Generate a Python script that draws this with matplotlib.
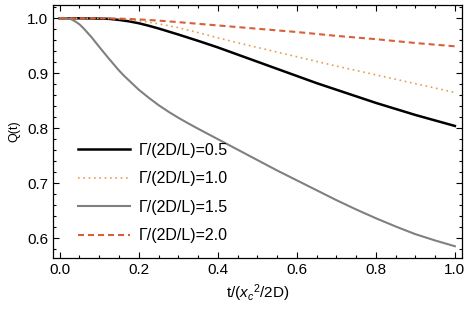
import matplotlib
matplotlib.use("Agg")
import matplotlib.pyplot as plt
from matplotlib.ticker import MultipleLocator

plt.rcParams['font.family'] = ['Liberation Sans', 'DejaVu Sans']
plt.rcParams['mathtext.fontset'] = 'custom'
plt.rcParams['mathtext.rm'] = 'Liberation Sans'
plt.rcParams['mathtext.it'] = 'Liberation Sans:italic'

# Data
t_05 = [0.0, 0.05, 0.1, 0.125, 0.15, 0.175, 0.2, 0.225, 0.25, 0.275, 0.3, 0.35, 0.4, 0.45, 0.5, 0.55,
        0.6, 0.65, 0.7, 0.75, 0.8, 0.85, 0.9, 0.95, 1.0]
q_05 = [1.0, 1.0, 0.9995, 0.999, 0.997, 0.9945, 0.991, 0.9865, 0.9815, 0.976, 0.9705, 0.959, 0.947, 0.934,
        0.921, 0.908, 0.895, 0.882, 0.870, 0.858, 0.846, 0.835, 0.824, 0.814, 0.804]

t_10 = [0.0, 0.1, 0.15, 0.175, 0.2, 0.225, 0.25, 0.275, 0.3, 0.35, 0.4, 0.45, 0.5, 0.55, 0.6, 0.65,
        0.7, 0.75, 0.8, 0.85, 0.9, 0.95, 1.0]
q_10 = [1.0, 1.0, 0.999, 0.9975, 0.9955, 0.993, 0.990, 0.9865, 0.983, 0.974, 0.9645, 0.9555, 0.947, 0.9385,
        0.930, 0.9215, 0.913, 0.905, 0.897, 0.889, 0.881, 0.873, 0.865]

t_15 = [0.0, 0.02, 0.03, 0.04, 0.05, 0.06, 0.07, 0.08, 0.09, 0.1, 0.1125, 0.125, 0.1375, 0.15, 0.1625,
        0.175, 0.1875, 0.2, 0.225, 0.25, 0.275, 0.3, 0.325, 0.35, 0.375, 0.4, 0.45, 0.5, 0.55, 0.6,
        0.65, 0.7, 0.75, 0.8, 0.85, 0.9, 0.95, 1.0]
q_15 = [1.0, 1.0, 0.998, 0.994, 0.989, 0.982, 0.974, 0.966, 0.957, 0.948, 0.937, 0.926, 0.9155, 0.905,
        0.8955, 0.887, 0.8785, 0.870, 0.8555, 0.842, 0.830, 0.819, 0.8088, 0.799, 0.7895, 0.780, 0.761,
        0.742, 0.723, 0.705, 0.687, 0.669, 0.652, 0.636, 0.621, 0.607, 0.5955, 0.585]

t_20 = [0.0, 0.1, 0.15, 0.2, 0.25, 0.3, 0.4, 0.5, 0.6, 0.7, 0.8, 0.9, 1.0]
q_20 = [1.0, 1.0, 0.9995, 0.998, 0.9958, 0.993, 0.987, 0.981, 0.975, 0.968, 0.962, 0.955, 0.949]

labels = ['Γ/(2D/L)=0.5', 'Γ/(2D/L)=1.0', 'Γ/(2D/L)=1.5', 'Γ/(2D/L)=2.0']
xticks = [0.0, 0.2, 0.4, 0.6, 0.8, 1.0]
yticks = [0.6, 0.7, 0.8, 0.9, 1.0]

fig = plt.figure(figsize=(4.68, 3.12), dpi=100)
ax = fig.add_axes([53/468, 1-258/312, 409/468, 253/312])

ax.plot(t_05, q_05, color='black', lw=1.8, label=labels[0])
ax.plot(t_10, q_10, color='#E0A050', lw=1.2, linestyle=(0, (1, 2.2)), label=labels[1])
ax.plot(t_15, q_15, color='#808080', lw=1.5, label=labels[2])
ax.plot(t_20, q_20, color='#D95F3B', lw=1.5, linestyle=(0, (2.9, 1.9)), label=labels[3])

ax.set_xlim(-0.017, 1.018)
ax.set_ylim(0.5636, 1.0242)
ax.set_xticks(xticks)
ax.set_yticks(yticks)
ax.set_xticklabels([f"{v:.1f}" for v in xticks])
ax.set_yticklabels([f"{v:.1f}" for v in yticks])
ax.xaxis.set_minor_locator(MultipleLocator(0.05))
ax.yaxis.set_minor_locator(MultipleLocator(0.02))
ax.tick_params(which='both', direction='in', top=True, right=True, labelsize=11, width=0.8, color='black')
ax.tick_params(which='major', length=4)
ax.tick_params(which='minor', length=2.2)
for s in ax.spines.values():
    s.set_linewidth(0.9)

ax.set_xlabel(r't/($x_c$$^{2}$/2D)', fontsize=11, labelpad=4)
ax.set_ylabel('Q(t)', fontsize=9, labelpad=5)

leg = ax.legend(loc='center left', bbox_to_anchor=(0.062, 0.257), frameon=False,
                fontsize=11.5, handlelength=3.25, handletextpad=0.5,
                labelspacing=0.85, borderpad=0, borderaxespad=0)

fig.savefig('out.png', dpi=100)
